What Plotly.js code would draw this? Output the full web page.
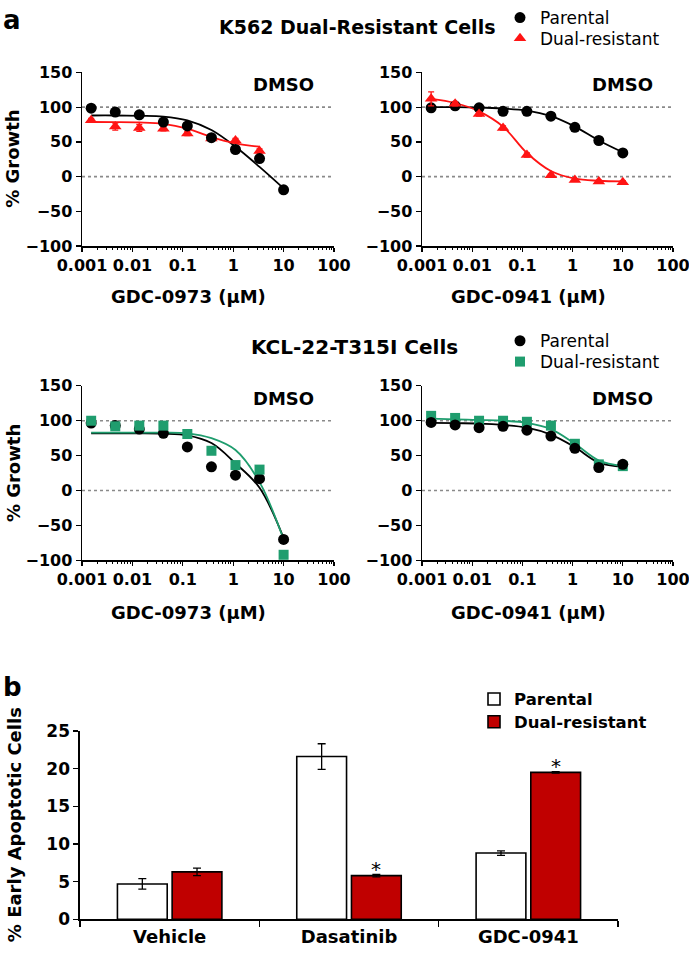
<!DOCTYPE html>
<html>
<head>
<meta charset="utf-8">
<script src="https://cdn.plot.ly/plotly-3.0.1.min.js"></script>
<style>html,body{margin:0;padding:0;background:#fff}#chart{width:689px;height:962px}</style>
</head>
<body>
<div id="chart"></div>
<script>
// ---------- data ----------
const doses = [0.00152, 0.00457, 0.0137, 0.0412, 0.123, 0.370, 1.11, 3.33, 10];
const tickVals = [0.001, 0.01, 0.1, 1, 10, 100];
const tickText = ['0.001', '0.01', '0.1', '1', '10', '100'];
const refLevels = [100, 0];

// K562, GDC-0973
const k562_0973_par = [98.6, 93, 89, 78.6, 73, 56, 39, 26, -19];
const k562_0973_parErr = [2, 2, 2, 3, 2, 3, 3, 3, 5];
const k562_0973_dual = [81, 72, 70, 69, 62, 55, 52, 37, null];
const k562_0973_dualErr = [3, 5, 5, 3, 3, 3, 3, 3, 0];
const k562_0973_parFit = [88, 88, 87.5, 86.5, 81, 67, 43, 14, -17];
const k562_0973_dualFit = [78.6, 78.5, 78, 76, 69, 57, 48, 43, null];

// K562, GDC-0941
const k562_0941_par = [99, 102, 99, 94, 94, 87, 71, 52, 34];
const k562_0941_parErr = [2, 2, 2, 2, 2, 2, 2, 2, 2];
const k562_0941_dual = [112, 105, 90, 70, 31, 2, -5, -7, -8];
const k562_0941_dualErr = [10, 3, 3, 3, 3, 2, 2, 2, 2];
const k562_0941_parFit = [100, 100, 99.5, 98, 95, 87, 72, 52, 35];
const k562_0941_dualFit = [112, 106, 94, 72, 34, 8, -3, -6, -7];

// KCL-22-T315I, GDC-0973
const kcl_0973_par = [96.6, 93, 88, 82, 62.5, 34, 22, 17, -70];
const kcl_0973_parErr = [2, 2, 2, 2, 2, 2, 2, 2, 5];
const kcl_0973_dual = [100, 92, 93, 93, 81, 57, 36.5, 30, -92];
const kcl_0973_dualErr = [2, 2, 2, 2, 2, 2, 2, 2, 3];
const kcl_0973_parFit = [82, 82, 82, 81.5, 79, 68, 39, 4, -68];
const kcl_0973_dualFit = [83, 83, 83, 83, 82, 75, 58, 12, -70];

// KCL-22-T315I, GDC-0941
const kcl_0941_par = [97.6, 94, 90, 92, 86.5, 78, 60.5, 33, 37.5];
const kcl_0941_parErr = [2, 2, 2, 2, 2, 2, 2, 2, 2];
const kcl_0941_dual = [107, 104, 100, 100, 98.5, 93, 67, 37.5, 35];
const kcl_0941_dualErr = [2, 2, 2, 2, 2, 2, 2, 2, 2];
const kcl_0941_parFit = [97, 96.5, 96, 94, 90, 80, 62, 40, 34];
const kcl_0941_dualFit = [103, 102, 101, 100, 97, 88, 67, 43, 35];

// Panel b
const barCats = ['Vehicle', 'Dasatinib', 'GDC-0941'];
const barParental = [4.7, 21.6, 8.8];
const barParentalErr = [0.7, 1.7, 0.3];
const barDual = [6.3, 5.8, 19.5];
const barDualErr = [0.5, 0.15, 0.1];
const barSig = ['', '*', '*'];

// ---------- styling ----------
const BLACK = '#000000', RED = '#ff1414', GREEN = '#1f9d6e', DARKRED = '#c00000';
const FONT = 'DejaVu Sans';
const W = 689, H = 962;
const px = v => v / W;
const py = v => 1 - v / H;
const BARGAP = 0.39, BARGROUPGAP = 0.09;
const barDomain = [px(80), px(618)];

function markers(y, err, color, symbol, size, xa, ya, name, legend) {
  return {
    type: 'scatter', mode: 'markers', x: doses, y: y, xaxis: xa, yaxis: ya,
    name: name, legend: legend || 'legend', showlegend: !!legend,
    marker: {color: color, symbol: symbol, size: size},
    error_y: {type: 'data', array: err, visible: true, color: color, thickness: 1.3, width: 3},
    cliponaxis: false
  };
}
function fit(y, color, xa, ya) {
  return {
    type: 'scatter', mode: 'lines', x: doses, y: y, xaxis: xa, yaxis: ya,
    showlegend: false, line: {color: color, width: 1.8, shape: 'spline', smoothing: 1},
    hoverinfo: 'skip', connectgaps: false
  };
}

const traces = [
  fit(k562_0973_parFit, BLACK, 'x', 'y'),
  fit(k562_0973_dualFit, RED, 'x', 'y'),
  markers(k562_0973_dual, k562_0973_dualErr, RED, 'triangle-up', 11, 'x', 'y', 'Dual-resistant', 'legend2'),
  markers(k562_0973_par, k562_0973_parErr, BLACK, 'circle', 11, 'x', 'y', 'Parental', 'legend'),

  fit(k562_0941_parFit, BLACK, 'x2', 'y2'),
  fit(k562_0941_dualFit, RED, 'x2', 'y2'),
  markers(k562_0941_par, k562_0941_parErr, BLACK, 'circle', 11, 'x2', 'y2', 'Parental', null),
  markers(k562_0941_dual, k562_0941_dualErr, RED, 'triangle-up', 11, 'x2', 'y2', 'Dual-resistant', null),

  fit(kcl_0973_parFit, BLACK, 'x3', 'y3'),
  fit(kcl_0973_dualFit, GREEN, 'x3', 'y3'),
  markers(kcl_0973_par, kcl_0973_parErr, BLACK, 'circle', 11, 'x3', 'y3', 'Parental', 'legend3'),
  markers(kcl_0973_dual, kcl_0973_dualErr, GREEN, 'square', 10, 'x3', 'y3', 'Dual-resistant', 'legend4'),

  fit(kcl_0941_parFit, BLACK, 'x4', 'y4'),
  fit(kcl_0941_dualFit, GREEN, 'x4', 'y4'),
  markers(kcl_0941_dual, kcl_0941_dualErr, GREEN, 'square', 10, 'x4', 'y4', 'Dual-resistant', null),
  markers(kcl_0941_par, kcl_0941_parErr, BLACK, 'circle', 11, 'x4', 'y4', 'Parental', null),

  {type: 'bar', x: barCats, y: barParental, name: 'Parental', xaxis: 'x5', yaxis: 'y5', legend: 'legend5',
   marker: {color: '#ffffff', line: {color: BLACK, width: 1.6}},
   error_y: {type: 'data', array: barParentalErr, color: BLACK, thickness: 1.3, width: 4}},
  {type: 'bar', x: barCats, y: barDual, name: 'Dual-resistant', xaxis: 'x5', yaxis: 'y5', legend: 'legend6',
   marker: {color: DARKRED, line: {color: BLACK, width: 1.6}},
   error_y: {type: 'data', array: barDualErr, color: BLACK, thickness: 1.3, width: 4}}
];

const tickFont = {family: FONT, size: 16, color: BLACK, weight: 'bold'};
const xLeft = [px(82), px(334)], xRight = [px(422), px(673)];
const yTop = [py(240), py(65)], yBot = [py(557), py(381)];

function logX(domain, anchor) {
  return {
    type: 'log', domain: domain, anchor: anchor, range: [-3, 2],
    tickmode: 'array', tickvals: tickVals, ticktext: tickText, ticklabeloverflow: 'allow',
    showline: true, linecolor: BLACK, linewidth: 1.5, ticks: 'outside', ticklen: 4, tickwidth: 1.3, tickcolor: BLACK,
    minor: {ticks: 'outside', ticklen: 2, tickwidth: 1, tickcolor: BLACK, dtick: 'D1', showgrid: false},
    showgrid: false, zeroline: false, tickfont: tickFont, fixedrange: true, automargin: false
  };
}
function growthY(domain, anchor) {
  return {
    domain: domain, anchor: anchor, range: [-100, 150], dtick: 50, tick0: 0,
    showline: true, linecolor: BLACK, linewidth: 1.5, ticks: 'outside', ticklen: 5, tickwidth: 1.3, tickcolor: BLACK,
    showgrid: false, zeroline: false, tickfont: tickFont, fixedrange: true, automargin: false
  };
}

const shapes = [];
['', '2', '3', '4'].forEach(s => {
  refLevels.forEach(v => {
    shapes.push({type: 'line', xref: 'x' + s + ' domain', yref: 'y' + s, x0: 0, x1: 1, y0: v, y1: v,
      line: {color: '#8a8a8a', width: 1.6, dash: 'dot'}, layer: 'below'});
  });
});

const bold = (size) => ({family: FONT, size: size, color: BLACK, weight: 'bold'});
const annotations = [
  {text: 'a', xref: 'paper', yref: 'paper', x: px(1), y: py(12), xanchor: 'left', yanchor: 'middle', showarrow: false, font: bold(26)},
  {text: 'b', xref: 'paper', yref: 'paper', x: px(1), y: py(685), xanchor: 'left', yanchor: 'middle', showarrow: false, font: bold(26)},
  {text: 'K562 Dual-Resistant Cells', xref: 'paper', yref: 'paper', x: px(357), y: py(19), xanchor: 'center', yanchor: 'middle', showarrow: false, font: bold(19)},
  {text: 'KCL-22-T315I Cells', xref: 'paper', yref: 'paper', x: px(354), y: py(342), xanchor: 'center', yanchor: 'middle', showarrow: false, font: bold(20)},
  {text: '% Growth', xref: 'paper', yref: 'paper', x: px(13), y: py(152), textangle: -90, xanchor: 'center', yanchor: 'middle', showarrow: false, font: bold(18)},
  {text: '% Growth', xref: 'paper', yref: 'paper', x: px(13), y: py(469), textangle: -90, xanchor: 'center', yanchor: 'middle', showarrow: false, font: bold(18)},
  {text: 'GDC-0973 (μM)', xref: 'paper', yref: 'paper', x: px(188), y: py(291), xanchor: 'center', yanchor: 'middle', showarrow: false, font: bold(18)},
  {text: 'GDC-0941 (μM)', xref: 'paper', yref: 'paper', x: px(528), y: py(291), xanchor: 'center', yanchor: 'middle', showarrow: false, font: bold(18)},
  {text: 'GDC-0973 (μM)', xref: 'paper', yref: 'paper', x: px(188), y: py(610), xanchor: 'center', yanchor: 'middle', showarrow: false, font: bold(18)},
  {text: 'GDC-0941 (μM)', xref: 'paper', yref: 'paper', x: px(528), y: py(610), xanchor: 'center', yanchor: 'middle', showarrow: false, font: bold(18)},
  {text: '% Early Apoptotic Cells', xref: 'paper', yref: 'paper', x: px(14), y: py(824), textangle: -90, xanchor: 'center', yanchor: 'middle', showarrow: false, font: bold(18)}
];
['', '2', '3', '4'].forEach(s => {
  annotations.push({text: 'DMSO', xref: 'x' + s + ' domain', yref: 'y' + s + ' domain', x: 0.80, y: 0.93,
    xanchor: 'center', yanchor: 'middle', showarrow: false, font: bold(18)});
});
// significance asterisks above the dual-resistant bars
const catPx = (barDomain[1] - barDomain[0]) * W / barCats.length;
const dualShift = catPx * (1 - BARGAP) / 4;
barSig.forEach((s, i) => {
  if (!s) return;
  annotations.push({text: s, xref: 'x5', yref: 'y5', x: barCats[i], y: barDual[i] + barDualErr[i],
    xshift: dualShift, yshift: 6, xanchor: 'center', yanchor: 'middle', showarrow: false,
    font: {family: FONT, size: 20, color: BLACK}});
});

function leg(xp, yp, font) {
  return {x: px(xp), xanchor: 'left', y: py(yp), yanchor: 'middle', bgcolor: 'rgba(0,0,0,0)',
    borderwidth: 0, font: font, itemclick: false, itemdoubleclick: false, tracegroupgap: 0};
}
const legFont = {family: FONT, size: 17, color: BLACK};

const layout = {
  width: W, height: H, margin: {l: 0, r: 0, t: 0, b: 0}, paper_bgcolor: '#fff', plot_bgcolor: 'rgba(0,0,0,0)',
  showlegend: true, barmode: 'group', bargap: BARGAP, bargroupgap: BARGROUPGAP,
  font: {family: FONT, color: BLACK},
  xaxis: logX(xLeft, 'y'), yaxis: growthY(yTop, 'x'),
  xaxis2: logX(xRight, 'y2'), yaxis2: growthY(yTop, 'x2'),
  xaxis3: logX(xLeft, 'y3'), yaxis3: growthY(yBot, 'x3'),
  xaxis4: logX(xRight, 'y4'), yaxis4: growthY(yBot, 'x4'),
  xaxis5: {domain: barDomain, anchor: 'y5', type: 'category', showline: true, linecolor: BLACK, linewidth: 1.6,
    ticks: 'outside', tickson: 'boundaries', ticklen: 6, tickwidth: 1.5, tickcolor: BLACK,
    tickfont: bold(18), showgrid: false, zeroline: false, fixedrange: true, automargin: false},
  yaxis5: {domain: [py(919), py(729)], anchor: 'x5', range: [0, 25], dtick: 5, showline: true, linecolor: BLACK, linewidth: 1.6,
    ticks: 'outside', ticklen: 5, tickwidth: 1.5, tickcolor: BLACK, tickfont: bold(17), showgrid: false, zeroline: false,
    fixedrange: true, automargin: false},
  legend: leg(500, 10, legFont),
  legend2: leg(500, 31, legFont),
  legend3: leg(500, 336, legFont),
  legend4: leg(500, 357, legFont),
  legend5: leg(474, 697, bold(16.5)),
  legend6: leg(474, 720, bold(16.5)),
  shapes: shapes,
  annotations: annotations
};

Plotly.newPlot('chart', traces, layout, {staticPlot: true, displayModeBar: false});
</script>
</body>
</html>
